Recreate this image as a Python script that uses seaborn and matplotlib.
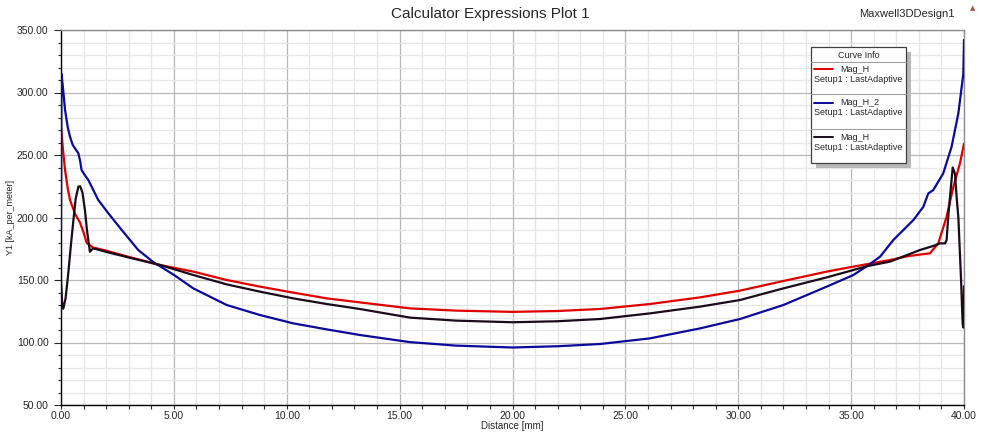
import numpy as np
import pandas as pd
import seaborn as sns
import matplotlib.pyplot as plt
from matplotlib.ticker import MultipleLocator, FormatStrFormatter
from matplotlib.patches import Rectangle
from matplotlib.lines import Line2D

# Curve data (Distance [mm] vs Y1 [kA_per_meter])
red_x = [0.0, 0.1, 0.18, 0.3, 0.4, 0.62, 0.84, 1.0, 1.14, 1.42, 2.0, 3.0, 4.39,
         5.86, 7.34, 8.81, 10.29, 11.77, 13.24, 15.46, 17.5, 20.0, 22.0, 23.88,
         26.09, 28.31, 30.08, 32.0, 33.92, 35.1, 36.72, 37.5, 38.1, 38.49, 38.86,
         39.23, 39.53, 39.82, 40.0]
red_y = [272, 252, 238, 223, 214, 203, 196, 188, 179.6, 176, 173.5, 168.5, 162,
         156.7, 150, 144.7, 139.9, 135.3, 132.1, 127.3, 125.5, 124.5, 125.2, 126.8,
         130.8, 136.1, 141.5, 149.2, 156.7, 160.7, 166, 169, 170.5, 171.3, 179.3,
         200.7, 224.7, 243.3, 259]

blue_x = [0.0, 0.02, 0.08, 0.18, 0.3, 0.4, 0.52, 0.62, 0.77, 0.85, 0.91, 1.05,
          1.21, 1.65, 2.1, 2.69, 3.42, 4.16, 4.39, 5.05, 5.86, 7.34, 8.81, 10.29,
          11.77, 13.24, 15.46, 17.5, 20.0, 22.0, 23.88, 26.09, 28.31, 30.08, 32.0,
          33.92, 35.1, 35.69, 36.28, 36.87, 37.76, 38.2, 38.35, 38.42, 38.64, 39.08,
          39.45, 39.75, 39.97, 40.0]
blue_y = [190, 315, 305, 286, 272, 264.6, 258, 255.3, 251.3, 245, 238, 234,
          230, 214, 203.3, 190, 174, 163.3, 161, 153.5, 143.3, 130, 122, 115.3,
          110.5, 106, 100.3, 97.5, 96, 97, 98.8, 103.3, 111.3, 118.8, 130,
          144.7, 154, 161, 168.6, 182, 198, 208.6, 216, 219.3, 222, 235.3,
          256.6, 283.3, 315, 342]

black_x = [0.0, 0.05, 0.1, 0.2, 0.32, 0.45, 0.55, 0.65, 0.77, 0.85, 0.95, 1.06,
           1.15, 1.28, 1.35, 1.43, 1.6, 2.0, 3.0, 4.39, 5.86, 7.34, 8.81, 10.29,
           11.77, 13.24, 15.46, 17.5, 20.0, 22.0, 23.88, 26.09, 28.31, 30.08, 32.0,
           33.92, 35.1, 35.69, 36.72, 38.05, 38.6, 38.94, 39.16, 39.23, 39.3, 39.38,
           39.5, 39.6, 39.68, 39.75, 39.87, 39.94, 39.97, 39.99, 40.0]
black_y = [150, 132, 127, 135, 155, 180, 198, 215, 224.7, 225, 220, 206,
           190, 172.6, 174, 175.3, 174.5, 172.5, 168, 162, 154, 146.5, 140.7, 135.3,
           130.8, 126.8, 119.9, 117.5, 116.2, 117, 118.8, 123.3, 128.7, 134, 143.3,
           152.1, 158, 161, 164.7, 174, 177, 179.3, 179.3, 182, 200, 216.6,
           240, 235, 215, 200, 150, 115, 112, 121, 145]

curve_names = ["Mag_H", "Mag_H_2", "Mag_H"]
curve_colors = ["#e00000", "#0a0a9c", "#1a0c1a"]
setup_label = "Setup1 : LastAdaptive"

sns.set_style("white")
plt.rcParams['font.family'] = ['Liberation Sans', 'DejaVu Sans']

W, H = 982, 434
fig = plt.figure(figsize=(W / 100, H / 100), dpi=100)
ax = fig.add_axes([61 / W, 1 - 405 / H, 903 / W, 375 / H])


def fx(px):
    return px / W


def fy(py):
    return 1 - py / H


series = [(red_x, red_y), (blue_x, blue_y), (black_x, black_y)]
for (xs, ys), col in zip(series, curve_colors):
    sns.lineplot(x=xs, y=ys, ax=ax, color=col, lw=1.6, estimator=None,
                 sort=False, zorder=3)

ax.set_xlim(0, 40)
ax.set_ylim(50, 350)
ax.xaxis.set_major_locator(MultipleLocator(5))
ax.xaxis.set_minor_locator(MultipleLocator(1))
ax.yaxis.set_major_locator(MultipleLocator(50))
ax.yaxis.set_minor_locator(MultipleLocator(10))
ax.xaxis.set_major_formatter(FormatStrFormatter('%.2f'))
ax.yaxis.set_major_formatter(FormatStrFormatter('%.2f'))

ax.grid(which='major', color='#b8b8b8', lw=0.9)
ax.grid(which='minor', color='#e6e6e6', lw=0.9)
ax.set_axisbelow(True)

for s in ['left', 'bottom']:
    ax.spines[s].set_color('black')
    ax.spines[s].set_linewidth(1.0)
for s in ['top', 'right']:
    ax.spines[s].set_color('#8c8c8c')
    ax.spines[s].set_linewidth(1.0)

ax.tick_params(axis='y', which='major', direction='out', length=5, width=0.8,
               pad=4, labelsize=7.5, left=True)
ax.tick_params(axis='y', which='minor', direction='out', length=2.4, width=0.8,
               left=True)
ax.tick_params(axis='x', which='both', direction='out', length=3, width=0.8,
               bottom=True)
ax.tick_params(axis='x', which='major', pad=1, labelsize=7.5)
for lab in ax.get_xticklabels():
    lab.set_fontfamily(['Liberation Sans Narrow', 'Liberation Sans'])

ax.set_xlabel("Distance [mm]", fontsize=7,
              fontfamily=['Liberation Sans Narrow', 'Liberation Sans'], labelpad=0)
ax.set_ylabel("Y1 [kA_per_meter]", fontsize=6.5, labelpad=1)

fig.text(fx(490), fy(14), "Calculator Expressions Plot 1", fontsize=11,
         ha='center', va='center')
fig.text(fx(955), fy(14), "Maxwell3DDesign1", fontsize=8, ha='right',
         va='center')
fig.text(fx(973), fy(8), "\u25b2", fontsize=5, color='#b5523b', ha='center',
         va='center', family='DejaVu Sans')

# Curve Info box
box_l, box_r, box_t, box_b = 810.7, 906, 47.3, 163.3
fig.add_artist(Rectangle((fx(box_l + 5), fy(box_b + 5)), fx(box_r - box_l),
                         (box_b - box_t) / H, transform=fig.transFigure,
                         facecolor='#b8b8b8', edgecolor='none', zorder=5))
fig.add_artist(Rectangle((fx(box_l), fy(box_b)), fx(box_r - box_l),
                         (box_b - box_t) / H, transform=fig.transFigure,
                         facecolor='white', edgecolor='#404040', lw=0.9, zorder=6))
fig.text(fx((box_l + box_r) / 2), fy(55), "Curve Info", fontsize=6.5,
         ha='center', va='center', zorder=7)
for sep in [61.7, 94.3, 129.3]:
    fig.add_artist(Line2D([fx(box_l), fx(box_r)], [fy(sep), fy(sep)],
                          transform=fig.transFigure, color='#a0a0a0', lw=0.8,
                          zorder=7))
for name, col, ly in zip(curve_names, curve_colors, [69, 102.7, 137.3]):
    fig.add_artist(Line2D([fx(814.3), fx(833.3)], [fy(ly), fy(ly)],
                          transform=fig.transFigure, color=col, lw=1.4, zorder=7))
    fig.text(fx(840), fy(ly), name, fontsize=6.5, ha='left', va='center',
             zorder=7)
    fig.text(fx(814.3), fy(ly + 10.3), setup_label, fontsize=6.5, ha='left',
             va='center', zorder=7)

fig.savefig("out.png", dpi=100)
